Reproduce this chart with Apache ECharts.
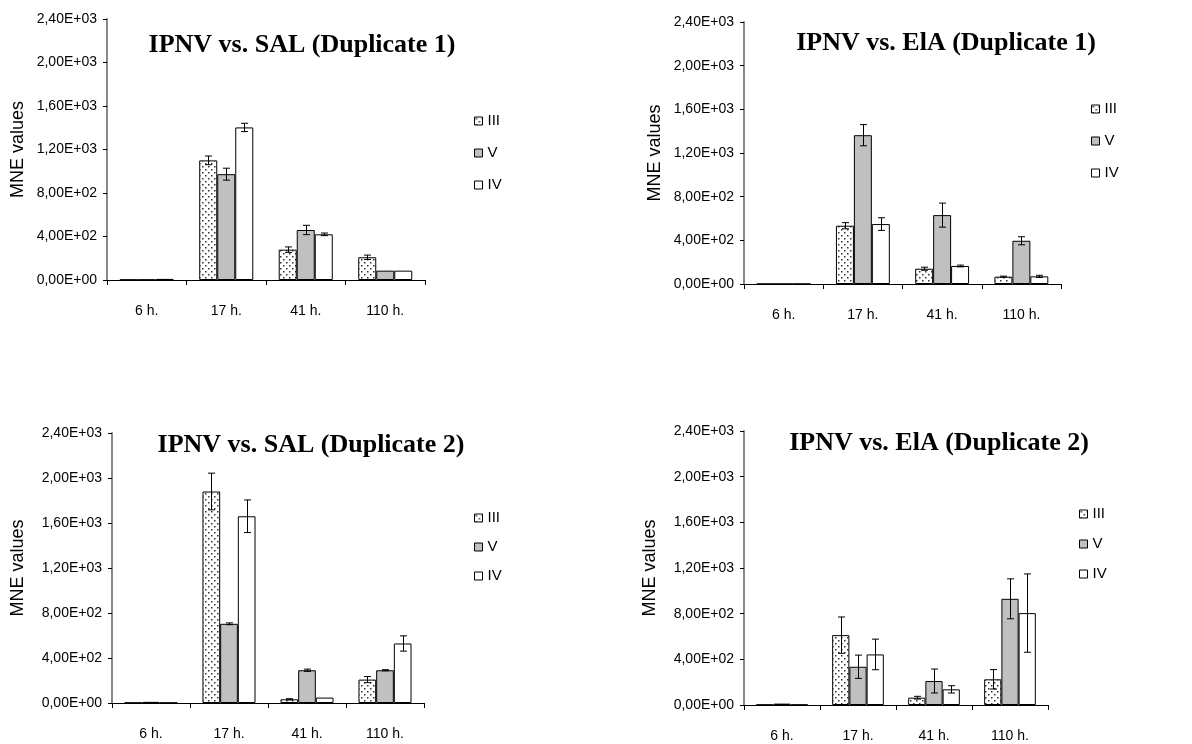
<!DOCTYPE html>
<html>
<head>
<meta charset="utf-8">
<script src="https://cdn.jsdelivr.net/npm/echarts@6/dist/echarts.min.js"></script>
<style>
html,body{margin:0;padding:0;background:#fff;}
#chart{width:1192px;height:744px;}
</style>
</head>
<body>
<div id="chart"></div>
<script>
// ---------- data ----------
const categories = ['6 h.', '17 h.', '41 h.', '110 h.'];
const seriesNames = ['III', 'V', 'IV'];
const yTickLabels = ['0,00E+00', '4,00E+02', '8,00E+02', '1,20E+03', '1,60E+03', '2,00E+03', '2,40E+03'];
const titles = [
  'IPNV vs. SAL (Duplicate 1)',
  'IPNV vs. ElA (Duplicate 1)',
  'IPNV vs. SAL (Duplicate 2)',
  'IPNV vs. ElA (Duplicate 2)'
];

// IPNV vs. SAL (Duplicate 1)
const sal1_III = [3, 1100, 279, 209];
const sal1_V = [3, 973, 460, 86];
const sal1_IV = [10, 1403, 420, 86];
const sal1_III_err = [0, 40, 25, 20];
const sal1_V_err = [0, 55, 43, 0];
const sal1_IV_err = [0, 38, 12, 0];

// IPNV vs. ElA (Duplicate 1)
const ela1_III = [1, 534, 140, 67];
const ela1_V = [1, 1363, 631, 396];
const ela1_IV = [1, 549, 165, 70];
const ela1_III_err = [0, 28, 14, 5];
const ela1_V_err = [0, 97, 110, 37];
const ela1_IV_err = [0, 58, 8, 10];

// IPNV vs. SAL (Duplicate 2)
const sal2_III = [3, 1880, 33, 208];
const sal2_V = [10, 704, 291, 291];
const sal2_IV = [3, 1660, 48, 529];
const sal2_III_err = [0, 163, 5, 27];
const sal2_V_err = [0, 8, 10, 5];
const sal2_IV_err = [0, 145, 0, 68];

// IPNV vs. ElA (Duplicate 2)
const ela2_III = [3, 612, 64, 225];
const ela2_V = [12, 335, 210, 930];
const ela2_IV = [3, 443, 137, 805];
const ela2_III_err = [0, 159, 12, 85];
const ela2_V_err = [0, 102, 105, 175];
const ela2_IV_err = [0, 134, 32, 343];

const panels = [
  {values: [sal1_III, sal1_V, sal1_IV], errors: [sal1_III_err, sal1_V_err, sal1_IV_err]},
  {values: [ela1_III, ela1_V, ela1_IV], errors: [ela1_III_err, ela1_V_err, ela1_IV_err]},
  {values: [sal2_III, sal2_V, sal2_IV], errors: [sal2_III_err, sal2_V_err, sal2_IV_err]},
  {values: [ela2_III, ela2_V, ela2_IV], errors: [ela2_III_err, ela2_V_err, ela2_IV_err]}
];

// ---------- layout ----------
const grids = [
  {left: 107, top: 19, width: 318, height: 261},
  {left: 744, top: 22, width: 317, height: 262},
  {left: 112, top: 433, width: 312, height: 270},
  {left: 744, top: 431, width: 304, height: 274}
];
const titlePos = [[302, 45], [946, 43], [311, 445], [939, 443]];
const legendPos = [[469, 108, 16], [1086, 96, 16], [469, 505, 13], [1074, 501, 14]];
const nameGaps = [80, 80, 85, 85];

const CAT_GAP = 0.32;

// dotted pattern for series III
const pc = document.createElement('canvas');
pc.width = 6; pc.height = 6;
const pctx = pc.getContext('2d');
pctx.fillStyle = '#ffffff';
pctx.fillRect(0, 0, 6, 6);
pctx.fillStyle = '#333333';
pctx.fillRect(1, 1, 1.5, 1.5);
pctx.fillRect(4, 4, 1.5, 1.5);
const dotPattern = {image: pc, repeat: 'repeat'};

const fills = [dotPattern, '#c0c0c0', '#ffffff'];

const option = {
  animation: false,
  backgroundColor: '#ffffff',
  title: [],
  legend: [],
  grid: [],
  xAxis: [],
  yAxis: [],
  series: []
};

panels.forEach((p, gi) => {
  option.grid.push(Object.assign({containLabel: false}, grids[gi]));
  option.title.push({
    text: titles[gi],
    left: titlePos[gi][0] - 5,
    top: titlePos[gi][1] - 13 - 5,
    textAlign: 'center',
    textStyle: {fontFamily: 'Liberation Serif', fontWeight: 'bold', fontSize: 26, color: '#000'}
  });
  option.xAxis.push({
    type: 'category',
    gridIndex: gi,
    data: categories,
    axisLine: {lineStyle: {color: '#000', width: 1}},
    axisTick: {show: true, length: 5, lineStyle: {color: '#000'}},
    axisLabel: {color: '#000', fontSize: 14, fontFamily: 'Liberation Sans', margin: 24},
    splitLine: {show: false}
  });
  option.yAxis.push({
    type: 'value',
    gridIndex: gi,
    min: 0, max: 2400, interval: 400,
    name: 'MNE values',
    nameLocation: 'middle',
    nameGap: nameGaps[gi],
    nameTextStyle: {color: '#000', fontSize: 18, fontFamily: 'Liberation Sans'},
    axisLine: {show: true, lineStyle: {color: '#888', width: 2}},
    axisTick: {show: true, length: 4, lineStyle: {color: '#000'}},
    axisLabel: {
      color: '#000', fontSize: 14, fontFamily: 'Liberation Sans', margin: 10,
      formatter: v => yTickLabels[Math.round(v / 400)]
    },
    splitLine: {show: false}
  });
  seriesNames.forEach((nm, si) => {
    option.series.push({
      type: 'bar',
      id: 'p' + gi + '_' + si,
      name: nm,
      xAxisIndex: gi,
      yAxisIndex: gi,
      data: p.values[si],
      barGap: '0%',
      barCategoryGap: (CAT_GAP * 100) + '%',
      itemStyle: {color: fills[si], borderColor: '#000', borderWidth: 1}
    });
  });
  option.legend.push({
    orient: 'vertical',
    left: legendPos[gi][0],
    top: legendPos[gi][1],
    itemGap: legendPos[gi][2],
    itemWidth: 8,
    itemHeight: 8,
    icon: 'rect',
    selectedMode: false,
    data: seriesNames,
    itemStyle: {borderWidth: 1, borderColor: '#000'},
    textStyle: {color: '#000', fontSize: 15, fontFamily: 'Liberation Sans', lineHeight: 16}
  });
  // error bars
  seriesNames.forEach((nm, si) => {
    const errData = p.values[si].map((v, ci) => [ci, v - p.errors[si][ci], v + p.errors[si][ci], p.errors[si][ci]]);
    option.series.push({
      type: 'custom',
      name: nm + ' err',
      xAxisIndex: gi,
      yAxisIndex: gi,
      z: 5,
      silent: true,
      data: errData,
      renderItem: (params, api) => {
        if (api.value(3) <= 0) return null;
        const ci = api.value(0);
        const top = api.coord([ci, api.value(2)]);
        const bot = api.coord([ci, api.value(1)]);
        const catW = api.size([1, 0])[0];
        const bw = catW * (1 - CAT_GAP) / 3;
        const x = Math.round(top[0] + (si - 1) * bw) + 0.5;
        const cap = 3.5;
        return {
          type: 'group',
          children: [
            {type: 'line', shape: {x1: x, y1: top[1], x2: x, y2: bot[1]}, style: {stroke: '#000', lineWidth: 1}},
            {type: 'line', shape: {x1: x - cap, y1: top[1], x2: x + cap, y2: top[1]}, style: {stroke: '#000', lineWidth: 1}},
            {type: 'line', shape: {x1: x - cap, y1: bot[1], x2: x + cap, y2: bot[1]}, style: {stroke: '#000', lineWidth: 1}}
          ]
        };
      }
    });
  });
});

const chart = echarts.init(document.getElementById('chart'), null, {renderer: 'canvas'});
chart.setOption(option);
</script>
</body>
</html>
